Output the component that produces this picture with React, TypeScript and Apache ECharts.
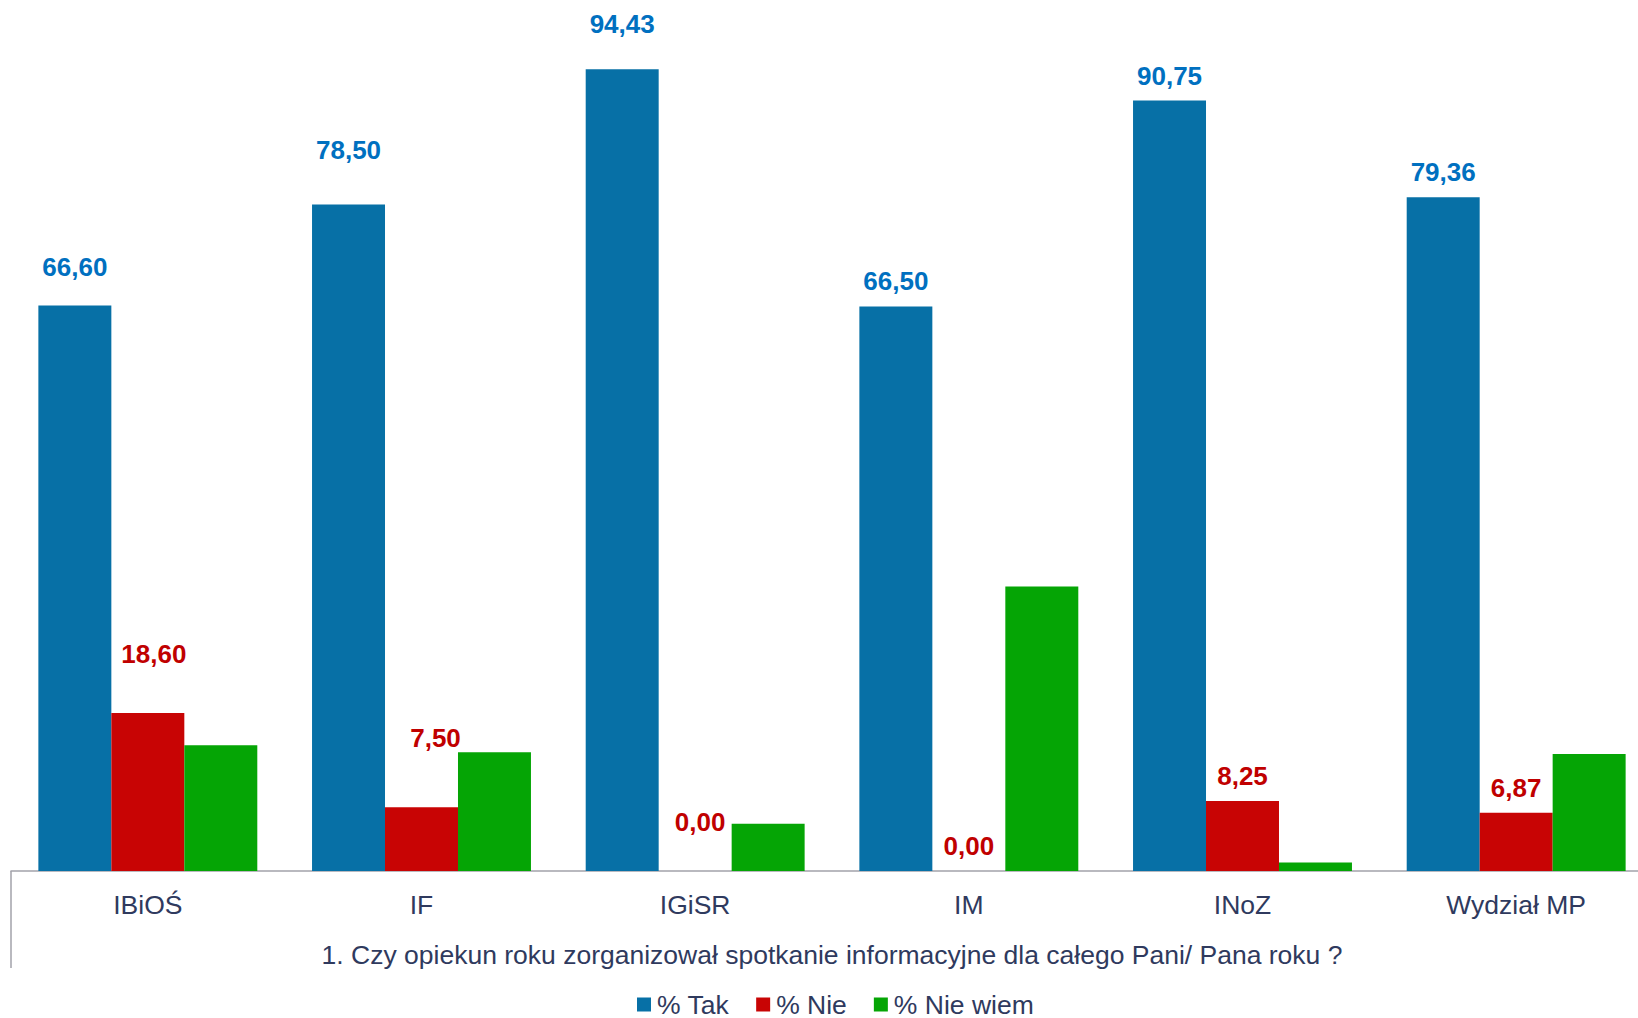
import React, { useEffect, useRef } from "react";
import * as echarts from "echarts";

const categories = ["IBiOŚ", "IF", "IGiSR", "IM", "INoZ", "Wydział MP"];
const takValues = [66.6, 78.5, 94.43, 66.5, 90.75, 79.36];
const nieValues = [18.6, 7.5, 0.0, 0.0, 8.25, 6.87];
const nieWiemValues = [14.8, 14.0, 5.57, 33.5, 1.0, 13.77];
const seriesNames = ["% Tak", "% Nie", "% Nie wiem"];
const questionTitle =
  "1. Czy opiekun roku zorganizował spotkanie informacyjne dla całego Pani/ Pana roku ?";

// label layout nudges (as in the original, some labels were moved by hand)
const takLabelOffsets = [
  [0, -14],
  [0, -30],
  [0, -20],
  [0, 0],
  [0, 0],
  [0, 0],
];
const nieLabelOffsets = [
  [6, -34],
  [14, -44],
  [5, -24],
  [0, 0],
  [0, 0],
  [0, 0],
];

const FONT = "'Liberation Sans', Arial, sans-serif";
const TEXT_COLOR = "#2F3A5E";
const fmt = (v: number) => v.toFixed(2).replace(".", ",");

export default function App() {
  const ref = useRef<HTMLDivElement>(null);

  useEffect(() => {
    document.body.style.margin = "0";
    if (!ref.current) return;
    const chart = echarts.init(ref.current, undefined, { renderer: "svg" });

    const labelBase = {
      show: true,
      position: "top" as const,
      distance: 12,
      fontSize: 26,
      fontWeight: "bold" as const,
      fontFamily: FONT,
      formatter: (p: any) => fmt(p.value),
    };

    chart.setOption({
      animation: false,
      backgroundColor: "#ffffff",
      textStyle: { fontFamily: FONT },
      grid: { left: 11, right: 0, top: 22, bottom: 147, containLabel: false },
      legend: {
        data: seriesNames,
        left: 637,
        top: 991,
        padding: 0,
        itemGap: 27,
        itemWidth: 14,
        itemHeight: 14,
        icon: "rect",
        textStyle: {
          fontSize: 26.5,
          lineHeight: 26,
          color: TEXT_COLOR,
          fontFamily: FONT,
          padding: [0, 0, 0, 1],
        },
      },
      xAxis: {
        type: "category",
        data: categories,
        axisLine: { show: true, lineStyle: { color: "#A2A2AA", width: 1.5 } },
        axisTick: {
          show: true,
          length: 97,
          interval: (index: number) => index === 0,
          lineStyle: { color: "#A2A2AA", width: 1.5 },
        },
        axisLabel: { fontSize: 26.5, color: TEXT_COLOR, margin: 20, fontFamily: FONT },
        name: questionTitle,
        nameLocation: "middle",
        nameGap: 70,
        nameTextStyle: { fontSize: 26.5, color: TEXT_COLOR, fontFamily: FONT },
      },
      yAxis: {
        type: "value",
        min: 0,
        max: 100,
        show: false,
        splitLine: { show: false },
      },
      series: [
        {
          name: seriesNames[0],
          type: "bar",
          barGap: "0%",
          barCategoryGap: "20%",
          itemStyle: { color: "#0770A6" },
          label: { ...labelBase, color: "#0070C0" },
          data: takValues.map((v, i) => ({ value: v, label: { offset: takLabelOffsets[i] } })),
        },
        {
          name: seriesNames[1],
          type: "bar",
          barGap: "0%",
          barCategoryGap: "20%",
          itemStyle: { color: "#C80404" },
          label: { ...labelBase, color: "#C00000" },
          data: nieValues.map((v, i) => ({ value: v, label: { offset: nieLabelOffsets[i] } })),
        },
        {
          name: seriesNames[2],
          type: "bar",
          barGap: "0%",
          barCategoryGap: "20%",
          itemStyle: { color: "#05A505" },
          label: { show: false },
          data: nieWiemValues,
        },
      ],
    });

    return () => chart.dispose();
  }, []);

  // The original plot area runs slightly past the right edge of the picture,
  // so the chart is a little wider than the visible frame and clipped.
  return (
    <div style={{ width: 1638, height: 1018, overflow: "hidden", position: "relative" }}>
      <div ref={ref} style={{ width: 1653, height: 1018 }} />
    </div>
  );
}
